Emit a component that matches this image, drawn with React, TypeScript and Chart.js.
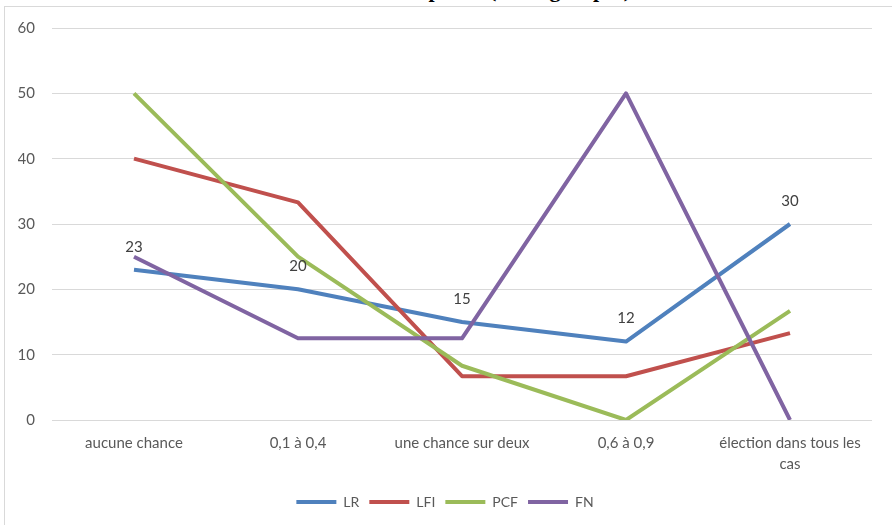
import React, { useEffect, useRef } from "react";
import { Chart, registerables } from "chart.js";

Chart.register(...registerables);

const categories: (string | string[])[] = [
  "aucune chance",
  "0,1 à 0,4",
  "une chance sur deux",
  "0,6 à 0,9",
  ["élection dans tous les", "cas"],
];
const seriesNames = ["LR", "LFI", "PCF", "FN"];
const lrValues = [23, 20, 15, 12, 30];
const lfiValues = [40, 33.3, 6.7, 6.7, 13.3];
const pcfValues = [50, 25, 8.3, 0, 16.7];
const fnValues = [25, 12.5, 12.5, 50, 0];
const seriesColors = ["#4F81BD", "#C0504D", "#9BBB59", "#8064A2"];
const titleText = "Chances de victoire des partis (selon groupes)";

const FONT = "Lato, 'Open Sans', sans-serif";

const labelPlugin = {
  id: "lrLabels",
  afterDatasetsDraw(chart: any) {
    const meta = chart.getDatasetMeta(0);
    const ds = chart.data.datasets[0];
    const ctx = chart.ctx;
    ctx.save();
    ctx.font = `15px ${FONT}`;
    ctx.fillStyle = "#404040";
    ctx.textAlign = "center";
    ctx.textBaseline = "middle";
    meta.data.forEach((pt: any, i: number) => {
      ctx.fillText(String(ds.data[i]), pt.x, pt.y - 23);
    });
    ctx.restore();
  },
};

export default function App() {
  const canvasRef = useRef<HTMLCanvasElement>(null);

  useEffect(() => {
    if (!canvasRef.current) return;
    const values = [lrValues, lfiValues, pcfValues, fnValues];
    const chart = new Chart(canvasRef.current, {
      type: "line",
      data: {
        labels: categories,
        datasets: seriesNames.map((name, i) => ({
          label: name,
          data: values[i],
          borderColor: seriesColors[i],
          backgroundColor: seriesColors[i],
          borderWidth: 4,
          pointRadius: 0,
          pointHoverRadius: 0,
          tension: 0,
          borderJoinStyle: "round" as const,
          pointStyle: "line" as const,
          order: seriesNames.length - 1 - i,
          fill: false,
        })),
      },
      options: {
        animation: false,
        responsive: true,
        maintainAspectRatio: false,
        layout: { padding: { left: 18, right: 20, top: 28, bottom: 6 } },
        plugins: {
          legend: {
            position: "bottom",
            labels: {
              usePointStyle: true,
              pointStyleWidth: 40,
              boxHeight: 14,
              padding: 10,
              color: "#595959",
              font: { family: FONT, size: 14 },
              sort: (a: any, b: any) => a.datasetIndex - b.datasetIndex,
            },
          },
          tooltip: { enabled: false },
          title: { display: false },
        },
        scales: {
          x: {
            offset: true,
            grid: { display: false },
            border: { display: false },
            ticks: {
              color: "#595959",
              font: { family: FONT, size: 15, lineHeight: 1.45 },
              padding: 4,
              maxRotation: 0,
              autoSkip: false,
            },
            afterFit: (scale: any) => {
              scale.height = 65;
            },
          },
          y: {
            min: 0,
            max: 60,
            grid: { color: "#d9d9d9", lineWidth: 1, drawTicks: false },
            border: { display: false },
            ticks: {
              stepSize: 10,
              color: "#595959",
              font: { family: FONT, size: 15 },
              padding: 17,
            },
            afterFit: (scale: any) => {
              scale.width = 34;
            },
          },
        },
      },
      plugins: [labelPlugin],
    });
    return () => chart.destroy();
  }, []);

  return (
    <div
      style={{
        position: "fixed",
        left: 0,
        top: 0,
        width: 892,
        height: 525,
        background: "#ffffff",
        overflow: "hidden",
      }}
    >
      <div
        style={{
          position: "absolute",
          top: -21,
          right: 261,
          whiteSpace: "nowrap",
          fontFamily: "'Liberation Serif', 'Times New Roman', serif",
          fontWeight: "bold",
          fontSize: 22,
          lineHeight: "22px",
          color: "#000000",
        }}
      >
        {titleText}
      </div>
      <div
        style={{
          position: "absolute",
          left: 4,
          top: 6,
          width: 892,
          height: 525,
          borderLeft: "1px solid #d9d9d9",
          borderTop: "1px solid #d9d9d9",
        }}
      />
      <div style={{ position: "absolute", left: 0, top: 0, width: 892, height: 525 }}>
        <canvas ref={canvasRef} />
      </div>
    </div>
  );
}
